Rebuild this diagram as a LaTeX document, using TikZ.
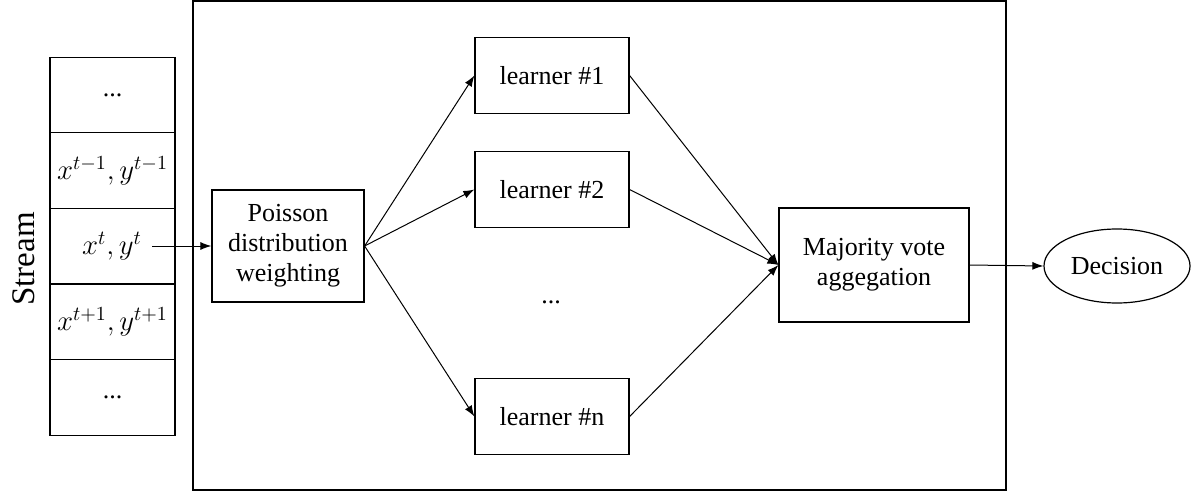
\documentclass[tikz,border=0pt]{standalone}
\usepackage{fontspec}
\setmainfont{Liberation Serif}
\usetikzlibrary{arrows.meta,shapes.geometric}
\begin{document}
\begin{tikzpicture}[x=0.5pt,y=-0.5pt,
  every node/.style={font=\fontsize{13}{15}\selectfont},
  mathtext/.style={font=\fontsize{14.5}{17}\selectfont},
  cell/.style={draw,line width=0.6pt,minimum width=62.5pt,minimum height=37.8pt,inner sep=0pt,outer sep=0pt,anchor=center},
  box/.style={draw,line width=0.6pt,align=center,inner sep=0pt,anchor=center},
  arr/.style={line width=0.5pt,-{Latex[length=5.5pt,width=4pt]}}]
\useasboundingbox (0,0) rectangle (1192,492);
% outer frame
\draw[line width=0.6pt] (193,1) rectangle (1006,490);
% stream stack
\node[cell] (s1) at (112.5,95) {...};
\node[cell,mathtext] (s2) at (112.5,170.6) {$x^{t-1},y^{t-1}$};
\node[cell] (s3) at (112.5,246.2) {};
\node[cell,mathtext] (s4) at (112.5,321.8) {$x^{t+1},y^{t+1}$};
\node[cell] (s5) at (112.5,397.4) {...};
\node[mathtext] (xt) at (112,246) {$x^{t},y^{t}$};
\coordinate (xs) at (152,246);
\node[rotate=90,font=\fontsize{16.5}{19}\selectfont] (stream) at (24,259) {Stream};
% poisson
\node[box,minimum width=76pt,minimum height=56pt] (pois) at (288,246) {Poisson\\distribution\\weighting};
% learners
\node[box,minimum width=77pt,minimum height=38pt] (l1) at (552,75.5) {learner \#1};
\node[box,minimum width=77pt,minimum height=38pt] (l2) at (552,189.5) {learner \#2};
\node (ld) at (551,302) {...};
\node[box,minimum width=77pt,minimum height=38pt] (ln) at (552,416.5) {learner \#n};
% majority
\node[box,minimum width=95pt,minimum height=57pt] (maj) at (874,265) {Majority vote\\aggegation};
% decision
\node[ellipse,draw,line width=0.6pt,minimum width=73pt,minimum height=37pt,inner sep=0pt] (dec) at (1117,266) {Decision};
% arrows
\draw[arr] (xs) -- (pois.west);
\draw[arr] (pois.east) -- (l1.west);
\draw[arr] (pois.east) -- (l2.west);
\draw[arr] (pois.east) -- (ln.west);
\draw[arr] (l1.east) -- (maj.west);
\draw[arr] (l2.east) -- (maj.west);
\draw[arr] (ln.east) -- (maj.west);
\draw[arr] (maj.east) -- (dec.west);
\end{tikzpicture}
\end{document}
